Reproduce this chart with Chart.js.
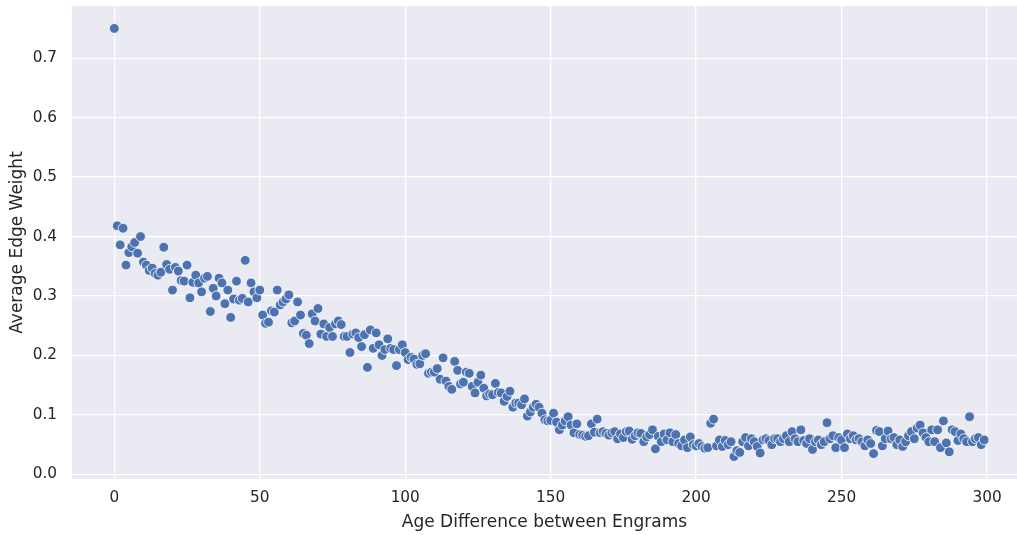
<!DOCTYPE html>
<html>
<head>
<meta charset="utf-8">
<script src="https://cdn.jsdelivr.net/npm/chart.js@4/dist/chart.umd.min.js"></script>
<style>
  html, body { margin: 0; padding: 0; background: #ffffff; }
  #c { display: block; }
</style>
</head>
<body>
<canvas id="c" width="1017" height="535"></canvas>
<script>
// Average edge weight for age difference 0..299
const weights = [
  0.750, 0.418, 0.386, 0.414, 0.352, 0.373, 0.383, 0.390, 0.372, 0.400,
  0.357, 0.352, 0.343, 0.347, 0.338, 0.335, 0.340, 0.382, 0.353, 0.345,
  0.310, 0.348, 0.342, 0.326, 0.325, 0.352, 0.297, 0.323, 0.335, 0.322,
  0.307, 0.330, 0.333, 0.274, 0.313, 0.300, 0.330, 0.322, 0.287, 0.310,
  0.264, 0.295, 0.325, 0.293, 0.296, 0.360, 0.290, 0.322, 0.307, 0.297,
  0.310, 0.268, 0.254, 0.256, 0.275, 0.273, 0.310, 0.285, 0.290, 0.295,
  0.302, 0.255, 0.258, 0.290, 0.268, 0.237, 0.234, 0.220, 0.270, 0.258,
  0.279, 0.236, 0.253, 0.232, 0.247, 0.232, 0.253, 0.258, 0.252, 0.232,
  0.232, 0.205, 0.236, 0.238, 0.230, 0.215, 0.235, 0.180, 0.243, 0.212,
  0.238, 0.218, 0.200, 0.210, 0.228, 0.212, 0.210, 0.183, 0.210, 0.218,
  0.205, 0.193, 0.197, 0.194, 0.185, 0.186, 0.200, 0.203, 0.170, 0.172,
  0.172, 0.178, 0.160, 0.196, 0.157, 0.148, 0.143, 0.190, 0.175, 0.152,
  0.155, 0.172, 0.170, 0.148, 0.137, 0.155, 0.167, 0.145, 0.132, 0.135,
  0.134, 0.153, 0.138, 0.137, 0.123, 0.131, 0.140, 0.113, 0.120, 0.120,
  0.117, 0.127, 0.098, 0.105, 0.113, 0.118, 0.113, 0.103, 0.092, 0.090,
  0.091, 0.103, 0.088, 0.075, 0.083, 0.090, 0.097, 0.083, 0.070, 0.085,
  0.067, 0.066, 0.064, 0.065, 0.085, 0.071, 0.093, 0.070, 0.072, 0.069,
  0.066, 0.070, 0.072, 0.060, 0.068, 0.062, 0.072, 0.073, 0.059, 0.065,
  0.070, 0.069, 0.055, 0.063, 0.067, 0.075, 0.043, 0.064, 0.055, 0.068,
  0.058, 0.070, 0.055, 0.067, 0.052, 0.048, 0.058, 0.045, 0.063, 0.050,
  0.048, 0.052, 0.047, 0.044, 0.045, 0.086, 0.093, 0.048, 0.058, 0.047,
  0.057, 0.050, 0.055, 0.030, 0.040, 0.037, 0.055, 0.062, 0.048, 0.060,
  0.055, 0.047, 0.036, 0.058, 0.060, 0.057, 0.050, 0.060, 0.060, 0.055,
  0.060, 0.065, 0.055, 0.072, 0.060, 0.055, 0.075, 0.057, 0.052, 0.060,
  0.042, 0.055, 0.058, 0.050, 0.055, 0.087, 0.060, 0.065, 0.045, 0.062,
  0.058, 0.045, 0.068, 0.060, 0.065, 0.058, 0.060, 0.055, 0.048, 0.058,
  0.052, 0.035, 0.074, 0.072, 0.048, 0.060, 0.073, 0.060, 0.062, 0.050,
  0.058, 0.047, 0.055, 0.065, 0.072, 0.060, 0.078, 0.083, 0.070, 0.062,
  0.055, 0.075, 0.055, 0.075, 0.045, 0.090, 0.053, 0.038, 0.075, 0.072,
  0.057, 0.068, 0.060, 0.055, 0.097, 0.055, 0.060, 0.062, 0.050, 0.058
];
const xTickValues = [0, 50, 100, 150, 200, 250, 300];
const yTickValues = [0.0, 0.1, 0.2, 0.3, 0.4, 0.5, 0.6, 0.7];
const xTitle = 'Age Difference between Engrams';
const yTitle = 'Average Edge Weight';

const points = weights.map((w, i) => ({ x: i, y: w }));

const bgPlugin = {
  id: 'plotBg',
  beforeDraw(chart) {
    const { ctx, chartArea: a } = chart;
    ctx.save();
    ctx.fillStyle = '#EAEAF2';
    ctx.fillRect(a.left, a.top, a.right - a.left, a.bottom - a.top);
    ctx.restore();
  }
};

const textColor = '#262626';
const fontFamily = "'DejaVu Sans', sans-serif";

new Chart(document.getElementById('c'), {
  type: 'scatter',
  data: {
    datasets: [{
      data: points,
      backgroundColor: '#4C72B0',
      borderColor: '#ffffff',
      borderWidth: 0.8,
      pointRadius: 4.9,
      pointHoverRadius: 4.9
    }]
  },
  options: {
    responsive: false,
    animation: false,
    events: [],
    layout: { autoPadding: false, padding: { top: 6, right: 0, left: 0, bottom: 0 } },
    plugins: { legend: { display: false }, tooltip: { enabled: false } },
    scales: {
      x: {
        type: 'linear',
        min: -14.55,
        max: 310.3,
        border: { display: false },
        grid: { color: '#ffffff', lineWidth: 1.3, drawTicks: false },
        afterBuildTicks(scale) { scale.ticks = xTickValues.map(v => ({ value: v })); },
        afterFit(scale) { scale.height = 56; scale.paddingLeft = 0; scale.paddingRight = 0; },
        ticks: {
          color: textColor,
          font: { family: fontFamily, size: 15.3 },
          padding: 10,
          maxRotation: 0,
          callback: v => String(v)
        },
        title: {
          display: true,
          text: xTitle,
          color: textColor,
          font: { family: fontFamily, size: 17 },
          padding: { top: 0, bottom: 2 }
        }
      },
      y: {
        type: 'linear',
        min: -0.0077,
        max: 0.7877,
        border: { display: false },
        grid: { color: '#ffffff', lineWidth: 1.3, drawTicks: false },
        afterBuildTicks(scale) { scale.ticks = yTickValues.map(v => ({ value: v })); },
        afterFit(scale) { scale.width = 72; scale.paddingTop = 0; scale.paddingBottom = 0; },
        ticks: {
          color: textColor,
          font: { family: fontFamily, size: 15.3 },
          padding: 15,
          callback: v => Number(v).toFixed(1)
        },
        title: {
          display: true,
          text: yTitle,
          color: textColor,
          font: { family: fontFamily, size: 17 },
          padding: { top: 7, bottom: 0 }
        }
      }
    }
  },
  plugins: [bgPlugin]
});
</script>
</body>
</html>
